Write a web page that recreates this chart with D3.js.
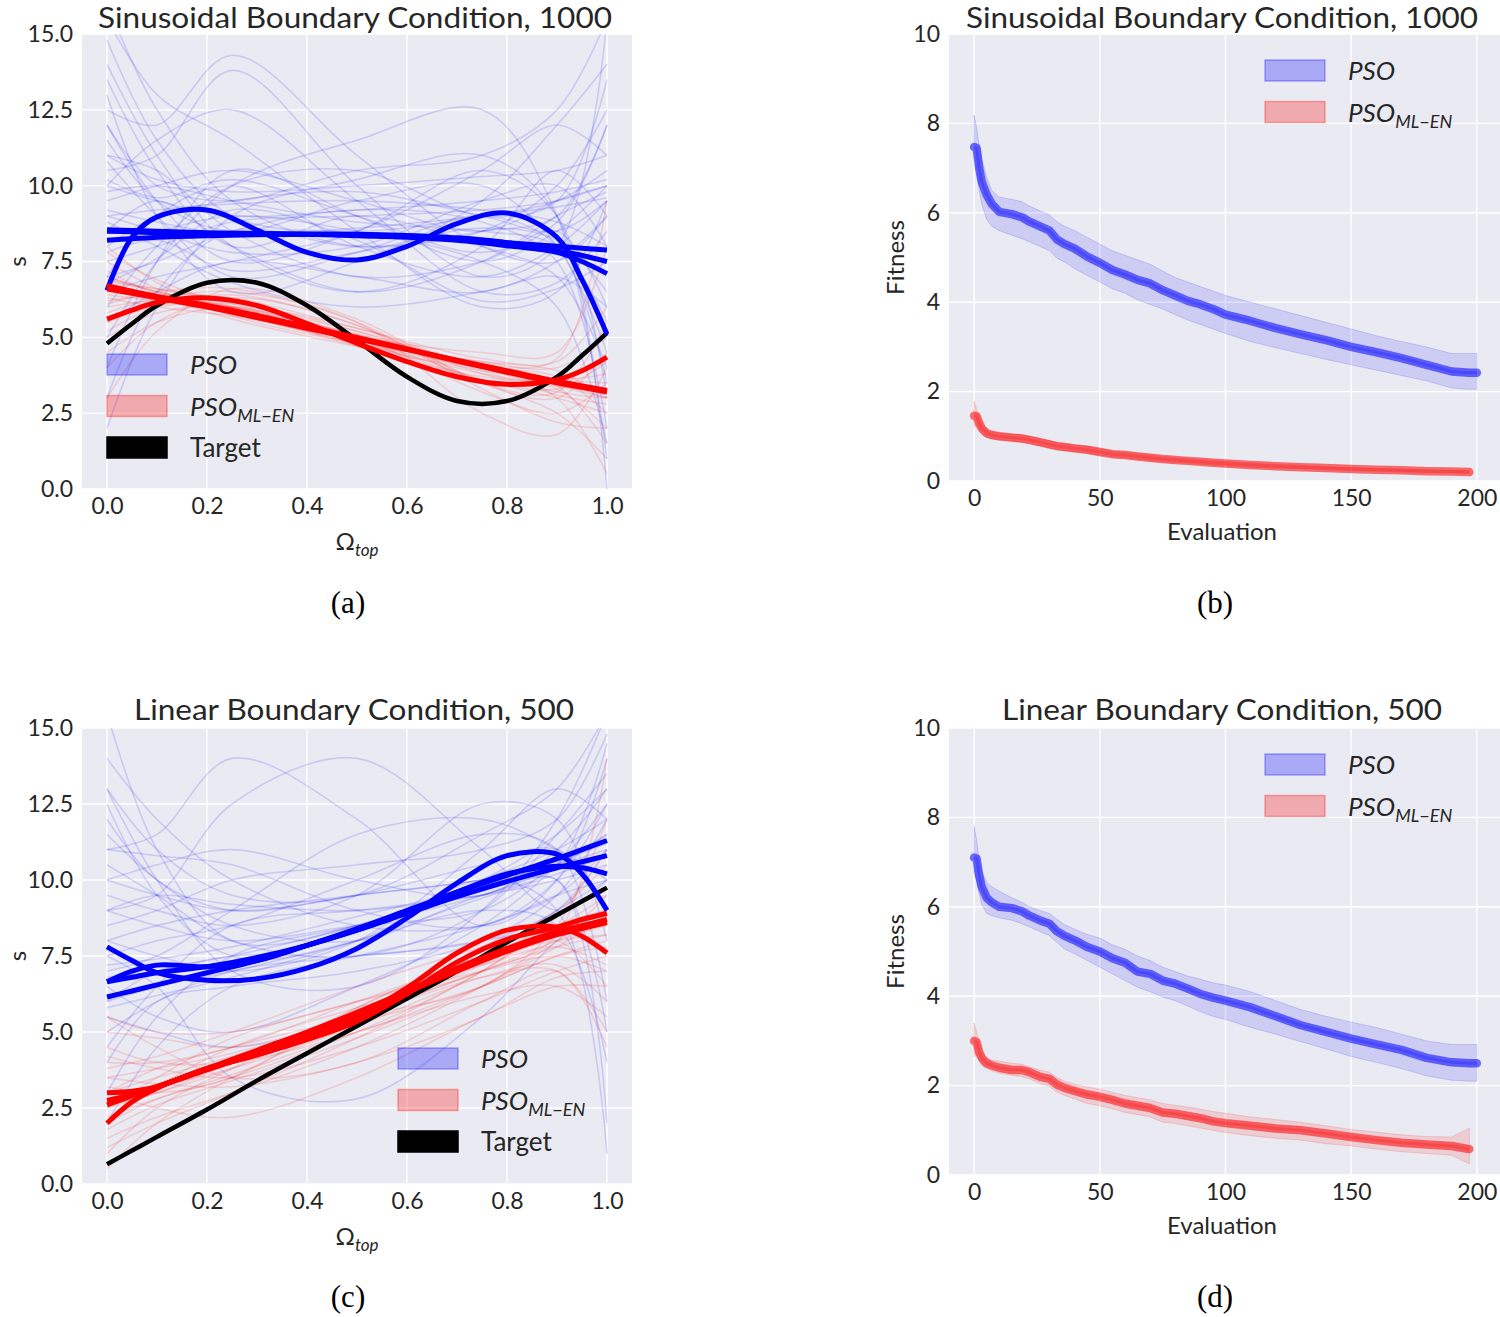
<!DOCTYPE html>
<html>
<head>
<meta charset="utf-8">
<script src="https://cdn.jsdelivr.net/npm/d3@7/dist/d3.min.js"></script>
<style>
  body { margin: 0; background: #fff; }
  svg text { font-family: Lato, "Open Sans", sans-serif; fill: #262626; }
  svg text.cap { font-family: "Liberation Serif", "DejaVu Serif", serif; fill: #000; }
</style>
</head>
<body>
<svg id="fig" width="1500" height="1317"></svg>
<script>
// x positions (Omega_top) for the thin per-run curves and the thick best curves
const runX = [0, 0.1, 0.25, 0.5, 0.75, 0.9, 1.0];
const bestX = [0, 0.05, 0.1, 0.2, 0.3, 0.4, 0.5, 0.6, 0.7, 0.8, 0.9, 0.95, 1.0];

// (a) sinusoidal boundary condition, 1000
const sinRunsPSO = [
  [14.8, 11.5, 9.0, 8.5, 9.0, 9.5, 10.5], [13.5, 10.5, 8.0, 9.0, 8.0, 7.0, 4.0],
  [16.0, 12.5, 9.5, 8.0, 8.5, 9.0, 12.0], [4.0, 7.5, 10.5, 9.0, 7.5, 8.5, 10.0],
  [10.5, 11.0, 13.8, 10.0, 7.0, 8.0, 15.5], [12.0, 9.5, 7.5, 8.5, 10.5, 9.0, 3.0],
  [8.0, 9.0, 9.5, 9.8, 9.0, 8.5, 9.5], [2.0, 6.0, 9.0, 10.2, 11.0, 9.0, 0.0],
  [9.5, 10.0, 10.5, 9.5, 8.5, 9.5, 10.0], [11.0, 10.5, 8.5, 7.0, 7.5, 8.5, 6.0],
  [7.0, 7.5, 8.5, 9.2, 8.8, 7.5, 2.0], [15.5, 13.0, 11.5, 8.5, 6.0, 6.5, 9.5],
  [6.0, 8.0, 10.0, 10.5, 9.0, 9.5, 13.5], [9.0, 8.5, 7.8, 8.0, 9.5, 10.0, 8.0],
  [13.0, 9.0, 6.5, 7.5, 9.5, 12.0, 14.0], [10.0, 9.5, 9.0, 9.2, 9.5, 9.8, 10.2],
  [5.0, 7.5, 10.0, 11.5, 12.5, 9.0, 1.0], [12.5, 12.0, 14.3, 11.0, 8.0, 7.5, 9.0],
  [8.5, 9.5, 8.0, 6.5, 7.5, 9.0, 9.8], [11.5, 9.5, 8.5, 9.5, 10.0, 8.0, 4.5],
  [7.5, 8.0, 8.8, 9.0, 9.2, 9.5, 10.0], [3.0, 6.5, 8.5, 8.0, 8.5, 10.0, 12.5],
  [9.8, 10.0, 9.5, 8.8, 8.5, 8.0, 5.5], [14.0, 11.0, 8.0, 6.5, 8.0, 10.5, 9.0],
  [10.0, 11.5, 12.5, 9.5, 6.5, 6.8, 8.5], [6.5, 7.0, 7.5, 8.5, 10.5, 12.0, 11.0],
  [8.2, 8.5, 9.0, 8.5, 7.5, 6.0, 1.5], [9.0, 9.2, 9.4, 9.5, 9.2, 8.8, 8.0],
  [12.0, 10.0, 9.5, 10.5, 11.0, 12.5, 15.5], [7.0, 9.0, 10.0, 8.0, 7.0, 8.0, 9.5],
  [10.8, 9.0, 7.0, 7.8, 9.0, 8.0, 3.5], [5.5, 6.5, 7.5, 7.0, 6.5, 7.5, 9.0],
  [8.8, 8.0, 6.8, 6.0, 6.5, 7.0, 6.0], [11.0, 10.2, 9.8, 10.0, 10.3, 10.5, 11.0],
  [9.2, 8.8, 8.4, 8.6, 9.0, 9.3, 9.6], [7.8, 8.2, 7.2, 7.8, 8.6, 8.2, 6.5],
  [10.2, 9.6, 10.2, 9.0, 7.8, 8.8, 12.0], [6.8, 7.6, 9.2, 8.2, 6.2, 6.6, 7.5]
];
const sinRunsML = [
  [6.5, 6.3, 5.9, 5.0, 4.0, 3.5, 3.0], [7.0, 6.5, 6.0, 5.1, 4.1, 3.6, 3.5],
  [5.5, 6.0, 6.1, 5.2, 3.8, 3.2, 3.0], [8.0, 6.8, 5.8, 4.9, 4.2, 4.0, 5.0],
  [4.0, 5.5, 6.3, 5.4, 3.5, 2.5, 1.0], [6.8, 6.6, 6.2, 5.0, 3.6, 3.0, 2.5],
  [6.2, 6.4, 6.3, 5.3, 4.3, 4.2, 6.0], [7.5, 6.6, 5.7, 4.8, 4.2, 3.9, 3.0],
  [5.0, 5.8, 6.0, 5.0, 3.2, 2.5, 3.5], [6.6, 6.3, 5.8, 4.8, 3.8, 3.3, 2.0],
  [3.0, 5.2, 6.6, 5.6, 3.5, 3.0, 4.5], [6.9, 6.5, 5.9, 4.9, 4.0, 3.6, 3.8],
  [7.2, 6.4, 5.6, 4.7, 3.9, 3.4, 1.5], [6.0, 6.2, 6.0, 5.2, 4.0, 3.4, 3.2],
  [5.8, 6.3, 6.5, 5.5, 2.5, 1.8, 4.0], [6.4, 6.2, 5.8, 5.0, 4.5, 4.5, 8.0],
  [6.7, 6.4, 6.0, 5.1, 4.0, 3.0, 0.5], [5.2, 6.0, 6.4, 5.4, 3.5, 3.2, 5.5],
  [7.8, 6.9, 6.0, 4.7, 3.7, 3.5, 3.3], [6.3, 6.0, 5.7, 4.9, 3.9, 3.1, 2.8],
  [6.1, 6.5, 6.6, 5.5, 3.3, 2.2, 2.0], [6.9, 6.6, 6.1, 5.0, 4.1, 4.3, 9.5],
  [4.5, 5.5, 6.0, 5.3, 4.0, 3.4, 3.0], [6.6, 6.4, 6.0, 4.9, 3.6, 3.3, 4.2],
  [7.0, 6.5, 5.8, 4.8, 4.0, 3.7, 2.5]
];
const sinBestPSO = [
  [8.55, 8.52, 8.5, 8.45, 8.42, 8.4, 8.38, 8.33, 8.25, 8.12, 8.0, 7.94, 7.88],
  [8.2, 8.25, 8.3, 8.35, 8.38, 8.4, 8.4, 8.36, 8.28, 8.12, 7.85, 7.7, 7.5],
  [8.5, 8.48, 8.45, 8.42, 8.42, 8.4, 8.35, 8.3, 8.2, 8.02, 7.8, 7.5, 7.1],
  [6.55, 8.3, 8.97, 9.2, 8.54, 7.8, 7.55, 8.0, 8.75, 9.1, 8.3, 6.9, 5.1]
];
const sinBestML = [
  [6.6, 6.45, 6.3, 6.0, 5.65, 5.3, 4.95, 4.6, 4.25, 3.9, 3.55, 3.4, 3.25],
  [6.7, 6.52, 6.35, 6.05, 5.72, 5.35, 5.0, 4.62, 4.22, 3.85, 3.5, 3.35, 3.2],
  [5.6, 5.9, 6.15, 6.3, 6.05, 5.45, 4.8, 4.2, 3.7, 3.45, 3.6, 3.9, 4.35]
];
const sinTarget = [4.8, 5.45, 6.05, 6.8, 6.8, 6.05, 4.9, 3.7, 2.9, 2.9, 3.7, 4.4, 5.15];

// (c) linear boundary condition, 500
const linRunsPSO = [
  [15.5, 11.0, 8.0, 8.5, 10.0, 11.0, 12.0], [6.0, 7.0, 7.5, 8.5, 10.0, 11.5, 13.0],
  [10.0, 9.5, 9.0, 9.5, 10.5, 11.0, 9.0], [3.0, 5.5, 7.5, 8.5, 9.5, 10.5, 14.5],
  [9.0, 9.5, 9.2, 9.0, 9.5, 10.0, 10.5], [13.0, 10.0, 7.0, 6.5, 9.0, 12.0, 15.5],
  [7.5, 8.0, 8.5, 10.0, 11.5, 11.0, 6.0], [5.0, 6.0, 7.0, 7.5, 8.0, 9.0, 11.0],
  [11.0, 11.5, 14.0, 12.0, 8.5, 10.0, 14.0], [8.0, 7.5, 7.0, 8.0, 11.0, 13.0, 12.0],
  [12.0, 10.0, 9.0, 9.5, 10.0, 10.5, 11.0], [4.5, 6.5, 8.5, 9.0, 9.5, 10.0, 2.0],
  [9.5, 9.0, 8.5, 9.5, 12.5, 12.0, 8.0], [6.5, 5.5, 5.0, 6.5, 8.5, 10.5, 12.5],
  [14.0, 12.0, 10.0, 8.5, 8.5, 9.5, 10.0], [7.0, 7.5, 9.0, 11.5, 12.0, 11.0, 10.0],
  [10.5, 9.5, 8.0, 7.5, 9.0, 11.5, 13.5], [2.0, 4.5, 6.5, 7.5, 8.5, 9.5, 11.0],
  [8.5, 9.0, 10.0, 10.5, 11.0, 12.0, 14.8], [11.5, 10.0, 8.5, 8.0, 9.5, 10.0, 5.0],
  [5.5, 5.0, 4.5, 5.5, 7.5, 9.0, 10.0], [9.0, 8.5, 8.0, 8.5, 9.0, 10.5, 11.5],
  [13.0, 11.0, 9.5, 9.5, 11.5, 13.0, 15.5], [6.0, 6.5, 7.0, 8.0, 9.0, 8.5, 4.0],
  [7.5, 6.5, 3.5, 2.8, 5.5, 8.0, 9.0], [10.0, 10.5, 11.0, 10.0, 9.5, 11.0, 13.0],
  [8.0, 8.5, 9.0, 9.5, 10.0, 10.5, 11.5], [4.0, 6.0, 6.5, 7.0, 8.0, 9.5, 12.0],
  [12.5, 9.5, 7.5, 8.0, 10.0, 9.0, 1.0], [9.0, 9.5, 12.5, 14.0, 11.0, 9.0, 10.0],
  [6.8, 7.0, 7.5, 7.5, 8.0, 8.5, 9.0], [11.0, 10.8, 10.5, 9.0, 8.5, 10.0, 12.5],
  [7.2, 7.4, 7.8, 8.8, 9.8, 10.6, 11.2], [5.8, 6.2, 6.8, 8.0, 9.4, 10.2, 10.8]
];
const linRunsML = [
  [2.5, 3.0, 3.8, 5.5, 7.0, 8.0, 8.5], [3.5, 3.8, 4.3, 5.5, 7.2, 8.2, 9.0],
  [1.0, 2.5, 3.8, 5.8, 7.5, 8.0, 6.5], [5.0, 4.8, 4.5, 5.5, 6.8, 7.0, 5.0],
  [2.0, 2.8, 3.5, 5.0, 7.0, 8.8, 11.0], [4.0, 4.0, 4.5, 6.0, 7.5, 8.5, 9.0],
  [3.0, 3.5, 4.2, 5.3, 6.5, 7.5, 7.8], [0.5, 2.0, 3.5, 5.5, 7.8, 9.0, 10.5],
  [5.5, 5.0, 5.0, 6.0, 7.0, 7.5, 7.0], [2.8, 3.2, 3.8, 5.2, 6.8, 7.2, 6.0],
  [3.2, 3.0, 3.5, 5.8, 7.5, 8.0, 8.2], [1.5, 2.2, 3.0, 4.5, 6.5, 8.0, 9.5],
  [4.5, 4.0, 4.0, 5.0, 6.5, 7.5, 8.0], [2.2, 2.8, 3.6, 5.0, 6.2, 6.5, 5.5],
  [3.8, 4.2, 5.0, 6.5, 7.8, 8.5, 9.5], [2.0, 3.2, 4.5, 5.8, 7.0, 8.2, 14.0],
  [3.0, 2.5, 2.2, 3.5, 5.5, 6.5, 6.5], [2.5, 3.5, 4.8, 6.0, 7.2, 7.8, 7.2],
  [4.2, 3.8, 3.5, 4.5, 6.0, 7.0, 7.5], [1.8, 2.6, 3.4, 4.8, 6.5, 7.8, 8.8],
  [3.5, 3.3, 3.2, 4.0, 5.5, 6.8, 7.0], [2.6, 3.0, 4.0, 5.5, 7.0, 7.8, 8.2],
  [5.5, 4.5, 3.5, 4.0, 6.0, 7.0, 4.5], [3.0, 3.8, 4.5, 5.5, 6.5, 8.5, 12.0],
  [1.2, 2.0, 3.0, 4.8, 7.0, 8.5, 9.0]
];
const linBestPSO = [
  [6.15, 6.35, 6.55, 6.95, 7.35, 7.85, 8.35, 8.9, 9.45, 9.95, 10.4, 10.6, 10.8],
  [6.65, 6.8, 6.95, 7.15, 7.45, 7.85, 8.35, 8.95, 9.6, 10.15, 10.7, 11.0, 11.3],
  [7.8, 7.35, 6.95, 6.7, 6.75, 7.1, 7.75, 8.75, 9.9, 10.8, 10.85, 10.2, 9.0],
  [6.65, 7.0, 7.2, 7.15, 7.35, 7.85, 8.4, 9.0, 9.6, 10.2, 10.45, 10.4, 10.2]
];
const linBestML = [
  [2.6, 2.9, 3.2, 3.8, 4.4, 5.0, 5.65, 6.35, 7.1, 7.75, 8.3, 8.5, 8.7],
  [3.0, 3.05, 3.2, 3.8, 4.25, 4.75, 5.35, 6.25, 7.3, 8.05, 8.45, 8.7, 8.9],
  [2.0, 2.7, 3.15, 3.8, 4.25, 4.8, 5.5, 6.45, 7.6, 8.35, 8.45, 8.15, 7.6],
  [2.75, 2.95, 3.2, 3.75, 4.3, 4.9, 5.55, 6.3, 7.0, 7.65, 8.2, 8.4, 8.6]
];
const linTarget = [0.65, 1.1, 1.55, 2.45, 3.4, 4.3, 5.2, 6.1, 7.0, 7.95, 8.85, 9.3, 9.75];

// (b), (d) fitness against evaluation; the ML-EN runs stop at 197
const evals = [0, 1, 2, 3, 5, 7, 10, 15, 19, 22, 26, 30, 33, 36, 40, 45, 50, 55, 60, 65,
  70, 75, 80, 85, 90, 95, 100, 110, 120, 130, 140, 150, 160, 170, 180, 190, 197, 200];
const sinFitPSO = [7.47, 7.45, 7.0, 6.7, 6.4, 6.2, 6.02, 5.97, 5.9, 5.8, 5.7, 5.6, 5.4, 5.3, 5.2, 5.02, 4.88, 4.72, 4.62, 4.5,
  4.42, 4.27, 4.15, 4.03, 3.95, 3.85, 3.72, 3.58, 3.42, 3.28, 3.15, 3.0, 2.88, 2.75, 2.6, 2.45, 2.42, 2.42];
const sinFitPSOHi = [8.18, 7.9, 7.5, 7.2, 6.8, 6.5, 6.35, 6.3, 6.25, 6.15, 6.05, 5.95, 5.8, 5.7, 5.6, 5.45, 5.3, 5.15, 5.05, 4.95,
  4.85, 4.7, 4.55, 4.45, 4.35, 4.25, 4.15, 4.0, 3.85, 3.7, 3.55, 3.4, 3.25, 3.12, 3.0, 2.85, 2.85, 2.85];
const sinFitPSOLo = [7.3, 7.0, 6.5, 6.2, 5.85, 5.7, 5.6, 5.5, 5.42, 5.35, 5.25, 5.15, 4.98, 4.9, 4.75, 4.6, 4.45, 4.3, 4.2, 4.05,
  3.95, 3.85, 3.72, 3.6, 3.5, 3.4, 3.3, 3.12, 2.98, 2.85, 2.72, 2.6, 2.48, 2.36, 2.24, 2.08, 2.05, 2.05];
const sinFitML = [1.46, 1.45, 1.3, 1.18, 1.07, 1.03, 1.0, 0.97, 0.95, 0.92, 0.87, 0.82, 0.78, 0.76, 0.73, 0.7, 0.65, 0.6, 0.58, 0.55,
  0.52, 0.49, 0.47, 0.45, 0.43, 0.41, 0.39, 0.36, 0.33, 0.31, 0.29, 0.27, 0.25, 0.24, 0.22, 0.21, 0.2];
const sinFitMLHi = [1.78, 1.6, 1.45, 1.3, 1.16, 1.1, 1.07, 1.05, 1.03, 1.0, 0.95, 0.9, 0.86, 0.83, 0.8, 0.77, 0.72, 0.67, 0.64, 0.61,
  0.58, 0.55, 0.52, 0.5, 0.48, 0.46, 0.44, 0.4, 0.37, 0.35, 0.32, 0.3, 0.28, 0.27, 0.25, 0.24, 0.23];
const sinFitMLLo = [1.2, 1.25, 1.15, 1.05, 0.98, 0.95, 0.92, 0.9, 0.87, 0.84, 0.79, 0.74, 0.7, 0.68, 0.66, 0.63, 0.58, 0.54, 0.52, 0.49,
  0.46, 0.43, 0.42, 0.4, 0.38, 0.36, 0.34, 0.31, 0.29, 0.27, 0.25, 0.23, 0.22, 0.2, 0.19, 0.18, 0.17];

const linFitPSO = [7.1, 7.08, 6.7, 6.45, 6.2, 6.1, 6.0, 5.97, 5.9, 5.8, 5.7, 5.62, 5.45, 5.35, 5.25, 5.1, 5.0, 4.85, 4.75, 4.55,
  4.5, 4.35, 4.28, 4.17, 4.05, 3.97, 3.9, 3.75, 3.55, 3.35, 3.2, 3.05, 2.92, 2.8, 2.62, 2.52, 2.5, 2.5];
const linFitPSOHi = [7.8, 7.5, 7.05, 6.8, 6.55, 6.45, 6.35, 6.2, 6.1, 6.0, 5.92, 5.85, 5.72, 5.6, 5.5, 5.38, 5.3, 5.15, 5.05, 4.9,
  4.8, 4.65, 4.55, 4.45, 4.38, 4.3, 4.25, 4.1, 3.9, 3.7, 3.55, 3.42, 3.3, 3.15, 3.0, 2.92, 2.92, 2.92];
const linFitPSOLo = [6.8, 6.6, 6.3, 6.05, 5.85, 5.8, 5.75, 5.7, 5.62, 5.55, 5.45, 5.35, 5.2, 5.05, 4.95, 4.8, 4.65, 4.5, 4.35, 4.2,
  4.1, 3.98, 3.9, 3.78, 3.65, 3.55, 3.48, 3.3, 3.15, 2.98, 2.82, 2.65, 2.52, 2.38, 2.22, 2.12, 2.1, 2.1];
const linFitML = [3.0, 2.97, 2.75, 2.62, 2.5, 2.45, 2.4, 2.35, 2.35, 2.3, 2.2, 2.15, 2.02, 1.95, 1.88, 1.8, 1.75, 1.68, 1.6, 1.55,
  1.5, 1.4, 1.37, 1.32, 1.27, 1.2, 1.16, 1.1, 1.04, 1.0, 0.93, 0.85, 0.78, 0.72, 0.68, 0.65, 0.58];
const linFitMLHi = [3.4, 3.2, 2.95, 2.8, 2.62, 2.57, 2.55, 2.5, 2.48, 2.42, 2.35, 2.3, 2.18, 2.1, 2.03, 1.97, 1.92, 1.85, 1.78, 1.73,
  1.68, 1.6, 1.56, 1.52, 1.47, 1.42, 1.38, 1.3, 1.24, 1.18, 1.1, 1.02, 0.96, 0.9, 0.86, 0.85, 1.05];
const linFitMLLo = [2.65, 2.7, 2.55, 2.45, 2.38, 2.33, 2.28, 2.23, 2.2, 2.15, 2.05, 1.98, 1.85, 1.78, 1.7, 1.6, 1.55, 1.48, 1.4, 1.35,
  1.3, 1.18, 1.15, 1.1, 1.05, 1.0, 0.95, 0.88, 0.82, 0.78, 0.7, 0.65, 0.58, 0.52, 0.48, 0.44, 0.25];

const omegaTicks = [0, 0.2, 0.4, 0.6, 0.8, 1.0];
const sTicks = [0, 2.5, 5, 7.5, 10, 12.5, 15];
const evalTicks = [0, 50, 100, 150, 200];
const fitTicks = [0, 2, 4, 6, 8, 10];

const svg = d3.select('#fig');
const BG = '#eaeaf2';

function makePanel(id, box, xDomain, yDomain, xTicks, yTicks, fmtX, fmtY) {
  const x = d3.scaleLinear().domain(xDomain).range([box.left, box.right]);
  const y = d3.scaleLinear().domain(yDomain).range([box.bottom, box.top]);

  svg.append('rect')
    .attr('x', box.left).attr('y', box.top)
    .attr('width', box.right - box.left).attr('height', box.bottom - box.top)
    .attr('fill', BG);
  svg.append('clipPath').attr('id', id).append('rect')
    .attr('x', box.left).attr('y', box.top)
    .attr('width', box.right - box.left).attr('height', box.bottom - box.top);

  const grid = svg.append('g').attr('stroke', '#fff').attr('stroke-width', 1.4);
  grid.selectAll('line.gx').data(xTicks).enter().append('line')
    .attr('x1', d => x(d)).attr('x2', d => x(d))
    .attr('y1', box.top).attr('y2', box.bottom);
  grid.selectAll('line.gy').data(yTicks).enter().append('line')
    .attr('y1', d => y(d)).attr('y2', d => y(d))
    .attr('x1', box.left).attr('x2', box.right);

  const ax = svg.append('g')
    .attr('transform', `translate(0,${box.bottom})`)
    .call(d3.axisBottom(x).tickValues(xTicks).tickFormat(fmtX).tickSize(0).tickPadding(9));
  const ay = svg.append('g')
    .attr('transform', `translate(${box.left},0)`)
    .call(d3.axisLeft(y).tickValues(yTicks).tickFormat(fmtY).tickSize(0).tickPadding(9));
  [ax, ay].forEach(a => {
    a.select('.domain').remove();
    a.attr('font-family', null).attr('font-size', null);
    a.selectAll('text').style('font-size', '23px').attr('fill', null);
  });

  const plot = svg.append('g').attr('clip-path', `url(#${id})`);
  return { x, y, plot, box };
}

function title(text, cx, baseline, len) {
  svg.append('text')
    .attr('x', cx).attr('y', baseline)
    .attr('text-anchor', 'middle')
    .attr('textLength', len).attr('lengthAdjust', 'spacingAndGlyphs')
    .style('font-size', '28px')
    .text(text);
}

function caption(text, cx, baseline) {
  svg.append('text').attr('class', 'cap')
    .attr('x', cx).attr('y', baseline)
    .attr('text-anchor', 'middle')
    .style('font-size', '31px')
    .text(text);
}

function drawLegend(x0, y0, items) {
  items.forEach((it, i) => {
    const yy = y0 + i * 41.5;
    svg.append('rect')
      .attr('x', x0).attr('y', yy).attr('width', 60).attr('height', 21)
      .attr('fill', it.color).attr('fill-opacity', it.solid ? 1 : 0.28)
      .attr('stroke', it.color).attr('stroke-opacity', it.solid ? 1 : 0.3)
      .attr('stroke-width', 1.5);
    const t = svg.append('text')
      .attr('x', x0 + 83).attr('y', yy + 20)
      .style('font-size', '26px');
    t.append('tspan').style('font-style', it.italic ? 'italic' : 'normal').text(it.label);
    if (it.sub) {
      t.append('tspan').attr('dy', 6).style('font-style', 'italic').style('font-size', '18px').text(it.sub);
    }
  });
}

const legendItems = [
  { label: 'PSO', color: '#0000ff', italic: true },
  { label: 'PSO', sub: 'ML\u2212EN', color: '#ff0000', italic: true },
  { label: 'Target', color: '#000000', solid: true }
];

function curvePanel(id, box, runsPSO, runsML, bestPSO, bestML, target) {
  const p = makePanel(id, box, [-0.05, 1.05], [0, 15], omegaTicks, sTicks, d3.format('.1f'), d3.format('.1f'));
  const line = xs => d3.line()
    .x((d, i) => p.x(xs[i]))
    .y(d => p.y(d))
    .curve(d3.curveCatmullRom.alpha(0.5));

  p.plot.selectAll('path.runPSO').data(runsPSO).enter().append('path')
    .attr('d', line(runX)).attr('fill', 'none')
    .attr('stroke', '#0000ff').attr('stroke-opacity', 0.14).attr('stroke-width', 1.6);
  p.plot.selectAll('path.runML').data(runsML).enter().append('path')
    .attr('d', line(runX)).attr('fill', 'none')
    .attr('stroke', '#ff0000').attr('stroke-opacity', 0.13).attr('stroke-width', 1.6);

  p.plot.append('path').datum(target)
    .attr('d', line(bestX)).attr('fill', 'none')
    .attr('stroke', '#000').attr('stroke-width', 4.5);
  p.plot.selectAll('path.bestPSO').data(bestPSO).enter().append('path')
    .attr('d', line(bestX)).attr('fill', 'none')
    .attr('stroke', '#0000ff').attr('stroke-width', 5);
  p.plot.selectAll('path.bestML').data(bestML).enter().append('path')
    .attr('d', line(bestX)).attr('fill', 'none')
    .attr('stroke', '#ff0000').attr('stroke-width', 5);

  // axis labels
  const cx = (box.left + box.right) / 2;
  const om = svg.append('text')
    .attr('x', cx).attr('y', box.bottom + 61)
    .attr('text-anchor', 'middle')
    .style('font-size', '24px');
  om.append('tspan').text('\u03A9');
  om.append('tspan').attr('dy', 6).style('font-style', 'italic').style('font-size', '17px').text('top');
  svg.append('text')
    .attr('transform', `translate(26,${(box.top + box.bottom) / 2}) rotate(-90)`)
    .attr('text-anchor', 'middle')
    .style('font-size', '24px')
    .text('s');
  return p;
}

function fitnessPanel(id, box, mean, hi, lo, meanML, hiML, loML) {
  const p = makePanel(id, box, [-10, 210], [0, 10], evalTicks, fitTicks, d3.format('d'), d3.format('d'));
  const evalsML = evals.slice(0, meanML.length);

  const band = xs => d3.area()
    .x((d, i) => p.x(xs[i]))
    .y0(d => p.y(d[0])).y1(d => p.y(d[1]));
  const line = xs => d3.line()
    .x((d, i) => p.x(xs[i]))
    .y(d => p.y(d));

  [
    { xs: evals, m: mean, h: hi, l: lo, c: '#0000ff' },
    { xs: evalsML, m: meanML, h: hiML, l: loML, c: '#ff0000' }
  ].forEach(s => {
    p.plot.append('path')
      .datum(s.l.map((v, i) => [v, s.h[i]]))
      .attr('d', band(s.xs))
      .attr('fill', s.c).attr('fill-opacity', 0.12)
      .attr('stroke', s.c).attr('stroke-opacity', 0.15).attr('stroke-width', 1);
    p.plot.append('path').datum(s.m)
      .attr('d', line(s.xs)).attr('fill', 'none')
      .attr('stroke', s.c).attr('stroke-opacity', 0.55).attr('stroke-width', 8.5)
      .attr('stroke-linecap', 'round').attr('stroke-linejoin', 'round');
    p.plot.append('path').datum(s.m)
      .attr('d', line(s.xs)).attr('fill', 'none')
      .attr('stroke', s.c).attr('stroke-opacity', 0.2).attr('stroke-width', 3);
  });

  svg.append('text')
    .attr('x', 1222).attr('y', box.bottom + 59)
    .attr('text-anchor', 'middle')
    .style('font-size', '24px')
    .text('Evaluation');
  svg.append('text')
    .attr('transform', `translate(904,${(box.top + box.bottom) / 2}) rotate(-90)`)
    .attr('text-anchor', 'middle')
    .style('font-size', '24px')
    .text('Fitness');
  return p;
}

svg.append('rect').attr('width', 1500).attr('height', 1317).attr('fill', '#fff');

curvePanel('clipA', { left: 82, right: 632, top: 34, bottom: 489 },
  sinRunsPSO, sinRunsML, sinBestPSO, sinBestML, sinTarget);
drawLegend(107, 354, legendItems);
title('Sinusoidal Boundary Condition, 1000', 355, 28, 514);
caption('(a)', 348, 613);

fitnessPanel('clipB', { left: 949, right: 1502, top: 34, bottom: 481 },
  sinFitPSO, sinFitPSOHi, sinFitPSOLo, sinFitML, sinFitMLHi, sinFitMLLo);
drawLegend(1265, 60, legendItems.slice(0, 2));
title('Sinusoidal Boundary Condition, 1000', 1222, 28, 512);
caption('(b)', 1215, 613);

curvePanel('clipC', { left: 82, right: 632, top: 728, bottom: 1184 },
  linRunsPSO, linRunsML, linBestPSO, linBestML, linTarget);
drawLegend(398, 1048, legendItems);
title('Linear Boundary Condition, 500', 354, 720, 440);
caption('(c)', 348, 1307);

fitnessPanel('clipD', { left: 949, right: 1502, top: 728, bottom: 1175 },
  linFitPSO, linFitPSOHi, linFitPSOLo, linFitML, linFitMLHi, linFitMLLo);
drawLegend(1265, 754, legendItems.slice(0, 2));
title('Linear Boundary Condition, 500', 1222, 720, 440);
caption('(d)', 1215, 1307);
</script>
</body>
</html>
